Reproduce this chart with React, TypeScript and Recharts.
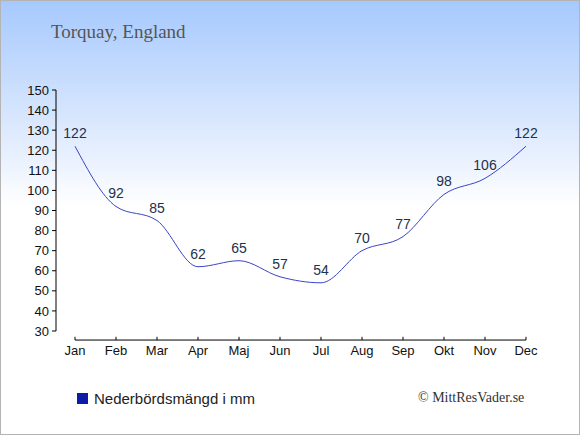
import React from 'react';
import { LineChart, Line, XAxis, YAxis, ReferenceLine, LabelList } from 'recharts';

const months = ['Jan', 'Feb', 'Mar', 'Apr', 'Maj', 'Jun', 'Jul', 'Aug', 'Sep', 'Okt', 'Nov', 'Dec'];
const rainfall = [122, 92, 85, 62, 65, 57, 54, 70, 77, 98, 106, 122];
const yTicks = [30, 40, 50, 60, 70, 80, 90, 100, 110, 120, 130, 140, 150];
const AXIS_Y = 25.5;

const data = months.map((m, i) => ({ month: m, rain: rainfall[i] }));

if (typeof document !== 'undefined') document.body.style.margin = '0';

const sans = '"Liberation Sans", Arial, sans-serif';
const serif = '"Liberation Serif", "Times New Roman", serif';

export default function App() {
  return (
    <div
      style={{
        position: 'relative',
        width: 578,
        height: 433,
        border: '1px solid #b4b4b4',
        background: 'linear-gradient(to bottom, #a6c9fd 0px, #e6effe 150px, #ffffff 205px, #ffffff 100%)',
        fontFamily: sans,
      }}
    >
      <div style={{ position: 'absolute', left: 50, top: 20, fontFamily: serif, fontSize: 19, color: '#555' }}>
        Torquay, England
      </div>
      <div style={{ position: 'absolute', left: 0, top: -1 }}>
        <LineChart width={580} height={435} data={data} margin={{ top: 90, right: 55, left: 0, bottom: 74 }}>
          <XAxis
            dataKey="month"
            padding={{ left: 19, right: 0 }}
            axisLine={false}
            tickLine={false}
            tickMargin={9}
            tick={{ fontSize: 13, fill: '#111', fontFamily: sans }}
            interval={0}
          />
          <YAxis
            domain={[30, 150]}
            ticks={yTicks}
            width={55}
            interval={0}
            axisLine={{ stroke: '#000' }}
            tickLine={{ stroke: '#000' }}
            tickSize={4}
            tickMargin={3}
            tick={{ fontSize: 13, fill: '#111', fontFamily: sans }}
          />
          <ReferenceLine
            segment={[{ x: months[0], y: AXIS_Y }, { x: months[months.length - 1], y: AXIS_Y }]}
            stroke="#000"
            ifOverflow="visible"
          />
          {months.map(m => (
            <ReferenceLine
              key={m}
              segment={[{ x: m, y: AXIS_Y }, { x: m, y: AXIS_Y + 1.6 }]}
              stroke="#000"
              ifOverflow="visible"
            />
          ))}
          <Line
            type="monotone"
            dataKey="rain"
            stroke="#3a44c6"
            strokeWidth={1}
            dot={false}
            activeDot={false}
            isAnimationActive={false}
          >
            <LabelList dataKey="rain" position="top" offset={8} fill="#22314f" fontSize={14} fontFamily={sans} />
          </Line>
        </LineChart>
      </div>
      <div style={{ position: 'absolute', left: 76, top: 389, display: 'flex', alignItems: 'center', fontSize: 15, color: '#222' }}>
        <span style={{ display: 'inline-block', width: 11, height: 11, background: '#0c1ca8', marginRight: 6 }} />
        Nederbördsmängd i mm
      </div>
      <div style={{ position: 'absolute', left: 417, top: 389, fontFamily: serif, fontSize: 14, color: '#333' }}>
        © MittResVader.se
      </div>
    </div>
  );
}
